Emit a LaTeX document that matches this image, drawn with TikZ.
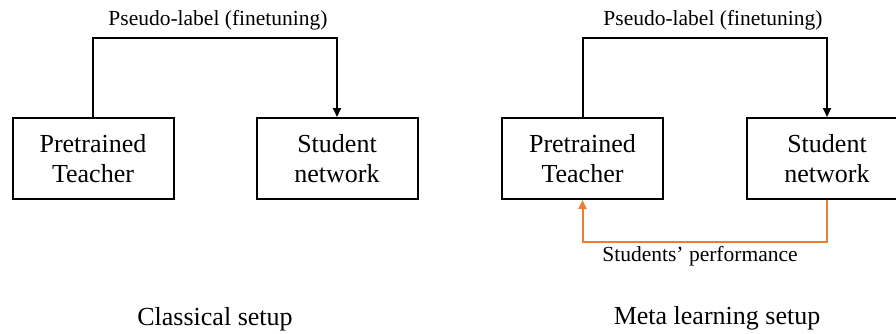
\documentclass[tikz,border=0pt]{standalone}
\usepackage{fontspec}
\setmainfont{Liberation Serif}
\usepackage{tikz}
\usetikzlibrary{arrows.meta}
\definecolor{perforange}{RGB}{237,125,49}

\begin{document}
\begin{tikzpicture}[x=1pt, y=-1pt, line width=2pt,
    box/.style={draw, rectangle, minimum width=161pt, minimum height=81pt, align=center, font=\rmfamily\fontsize{26}{30}\selectfont},
    lbl/.style={font=\rmfamily\fontsize{21.5}{25}\selectfont},
    setuptitle/.style={font=\rmfamily\fontsize{26}{30}\selectfont},
    flow/.style={-{Triangle[length=9pt,width=8pt]}},
    back/.style={flow, draw=perforange}]
            \useasboundingbox (0,0) rectangle (896,333);

            % classical setup
            \node[box] at (93, 158.5)   (t1) {Pretrained\\Teacher};
            \node[box] at (337, 158.5)  (s1) {Student\\network};
            \node[lbl] at (218, 20)     (l1) {Pseudo-label (finetuning)};
            \node[setuptitle] at (215, 319)    (c1) {Classical setup};

            % meta learning setup
            \node[box] at (582.5, 158.5) (t2) {Pretrained\\Teacher};
            \node[box] at (827, 158.5)   (s2) {Student\\network};
            \node[lbl] at (713, 20)      (l2) {Pseudo-label (finetuning)};
            \node[lbl] at (700, 256)     (l3) {Students’ performance};
            \node[setuptitle] at (717, 318)     (c2) {Meta learning setup};

            \draw [flow] (t1.north) -- ++(0,-79) -| (s1.north);
            \draw [flow] (t2.north) -- ++(0,-79) -| (s2.north);
            \draw [back] (s2.south) -- ++(0,42) -| (t2.south);
        \end{tikzpicture}
\end{document}
